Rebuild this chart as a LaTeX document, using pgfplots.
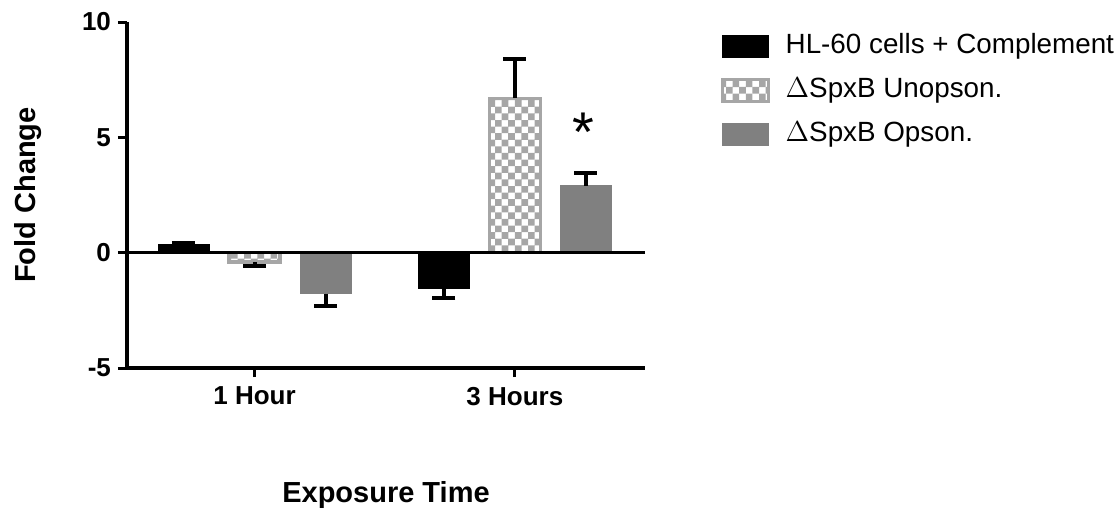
\documentclass[border=0pt]{standalone}
\usepackage{pgfplots}
\pgfplotsset{compat=1.18}
\usepackage{fontspec}
\setmainfont{Liberation Sans}
\usetikzlibrary{patterns}
\pgfdeclarepatternformonly{mychecker}{\pgfqpoint{-1pt}{-1pt}}{\pgfqpoint{6.6pt}{6.6pt}}{\pgfqpoint{6.6pt}{6.6pt}}{%
  \pgfpathrectangle{\pgfqpoint{0pt}{0pt}}{\pgfqpoint{3.35pt}{3.35pt}}%
  \pgfpathrectangle{\pgfqpoint{3.3pt}{3.3pt}}{\pgfqpoint{3.35pt}{3.35pt}}%
  \pgfusepath{fill}}
\definecolor{chkgray}{HTML}{A6A6A6}
\definecolor{opsgray}{HTML}{808080}
\begin{document}
\begin{tikzpicture}
\path[use as bounding box] (-63.5pt,-74pt) rectangle (494pt,184pt);
\begin{axis}[
  scale only axis,
  width=259pt, height=173pt,
  at={(0,0)}, anchor=south west,
  xmin=-0.49, xmax=1.5,
  ymin=-5, ymax=10,
  axis x line=bottom, axis y line=left,
  axis line style={-, line width=1.8pt},
  tick align=outside,
  major tick length=4.5pt,
  tick style={line width=1.5pt, black},
  xtick={0,1}, xticklabels={1 Hour,3 Hours},
  ytick={-5,0,5,10}, yticklabels={-5,0,5,10},
  tick label style={font=\bfseries\fontsize{13}{15}\selectfont},
  xticklabel style={yshift=-1.5pt},
  ylabel={Fold Change}, xlabel={Exposure Time},
  label style={font=\bfseries\fontsize{14.5}{17}\selectfont},
  ylabel style={at={(axis description cs:-0.191,0.5)}, anchor=center, rotate=0},
  xlabel style={at={(axis description cs:0.5,-0.367)}, anchor=center},
  ybar, bar width=0.196,
  error bars/y explicit,
  error bars/error bar style={line width=2pt, black},
  error bars/error mark options={rotate=90, mark size=5.75pt, line width=2pt, black},
  legend style={draw=none, fill=none, at={(axis description cs:1.145,0.968)}, anchor=north west,
    font=\fontsize{13.9}{16}\selectfont, row sep=9pt, inner sep=0pt,
    nodes={inner sep=0pt, text height=10pt, text depth=3pt},
    /tikz/every odd column/.append style={column sep=8pt}},
  legend cell align=left,
  legend image code/.code={\draw[#1] (0pt,-5.5pt) rectangle (23pt,5.5pt);},
  clip=false,
]
% HL-60 cells + Complement
\addplot[fill=black, draw=black, bar shift=-0.273,
  error bars/y dir=plus] coordinates {(0,0.35) +- (0,0.08)};
\addlegendentry{HL-60 cells + Complement}
\addplot[fill=black, draw=black, bar shift=-0.273, forget plot,
  error bars/y dir=minus] coordinates {(1,-1.56) +- (0,0.39)};
% Unopson
\addplot[pattern=mychecker, pattern color=chkgray, draw=chkgray, line width=1.6pt, bar shift=0,
  error bars/y dir=minus] coordinates {(0,-0.4) +- (0,0.16)};
\addlegendentry{$\Delta$SpxB Unopson.}
\addplot[pattern=mychecker, pattern color=chkgray, draw=chkgray, line width=1.6pt, bar shift=0, forget plot,
  error bars/y dir=plus] coordinates {(1,6.7) +- (0,1.7)};
% Opson
\addplot[fill=opsgray, draw=opsgray, bar shift=0.273,
  error bars/y dir=minus] coordinates {(0,-1.77) +- (0,0.53)};
\addlegendentry{$\Delta$SpxB Opson.}
\addplot[fill=opsgray, draw=opsgray, bar shift=0.273, forget plot,
  error bars/y dir=plus] coordinates {(1,2.9) +- (0,0.56)};
\draw[line width=1.3pt] (axis cs:-0.49,0) -- (axis cs:1.5,0);
\node[font=\fontsize{28}{30}\selectfont, inner sep=0pt] at (axis cs:1.265,5.2) {*};
\end{axis}
\end{tikzpicture}
\end{document}
